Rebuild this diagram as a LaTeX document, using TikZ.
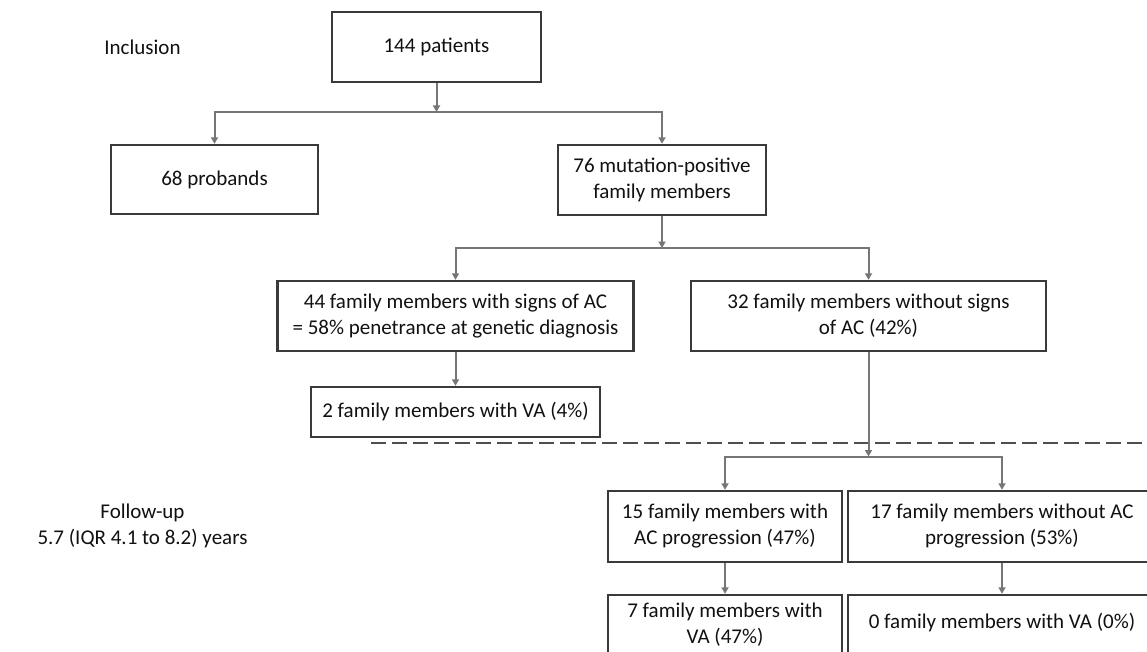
\documentclass[tikz,border=0pt]{standalone}
\usepackage{fontspec}
\setmainfont{Carlito}
\usetikzlibrary{arrows.meta}
\definecolor{boxc}{HTML}{3A3A3A}
\definecolor{arrc}{HTML}{767676}
\definecolor{txt}{HTML}{111111}
\begin{document}
\begin{tikzpicture}[x=1pt,y=-1pt,
  every node/.style={font=\fontsize{21}{26}\selectfont, text=txt, inner sep=0pt},
  box/.style={draw=boxc, line width=2.4pt, align=center},
  lbl/.style={align=center},
  conn/.style={draw=arrc, line width=2pt, -{Triangle[length=6.5pt,width=7pt]}},
  sep/.style={draw=boxc!90, line width=2.2pt, dash pattern=on 15pt off 6pt}]
\fill[white] (0,0) rectangle (1147,652);
\useasboundingbox (0,0) rectangle (1147,652);

% labels
\node[lbl] (incl) at (142.5,47) {Inclusion};
\node[lbl] (fup) at (142.5,526) {Follow-up\\5.7 (IQR 4.1 to 8.2) years};

% boxes
\node[box, minimum width=209, minimum height=70] (p144) at (436.5,47) {144 patients};
\node[box, minimum width=207, minimum height=69] (prob) at (214.5,179.5) {68 probands};
\node[box, minimum width=208, minimum height=70] (mut) at (662,180) {76 mutation-positive\\family members};
\node[box, minimum width=356, minimum height=70] (ac) at (455.5,316) {44 family members with signs of AC\\= 58\% penetrance at genetic diagnosis};
\node[box, minimum width=355, minimum height=70] (noac) at (868.5,316) {32 family members without signs\\of AC (42\%)};
\node[box, minimum width=289, minimum height=50] (va2) at (455.5,412) {2 family members with VA (4\%)};
\node[box, minimum width=234, minimum height=71] (prog) at (725,526.5) {15 family members with\\AC progression (47\%)};
\node[box, minimum width=308, minimum height=71] (noprog) at (1002,526.5) {17 family members without AC\\progression (53\%)};
\node[box, minimum width=234, minimum height=80] (va7) at (725,635) {};
\node[box, minimum width=308, minimum height=80] (va0) at (1002,635) {};
\node[lbl] (va7t) at (725,625) {7 family members with\\VA (47\%)};
\node[lbl] (va0t) at (1002,623) {0 family members with VA (0\%)};

% separator
\coordinate (sepL) at (371,443);
\coordinate (sepR) at (1150,443);
\draw[sep] (sepL) -- (sepR);

% junctions
\coordinate (j1) at (436.5,112);
\coordinate (j2) at (662,248);
\coordinate (j3) at (868.5,456.5);

% connectors
\draw[conn] (p144) -- (j1);
\draw[conn] (j1) -| (prob);
\draw[conn] (j1) -| (mut);
\draw[conn] (mut) -- (j2);
\draw[conn] (j2) -| (ac);
\draw[conn] (j2) -| (noac);
\draw[conn] (ac) -- (va2);
\draw[conn] (noac) -- (j3);
\draw[conn] (j3) -| (prog);
\draw[conn] (j3) -| (noprog);
\draw[conn] (prog) -- (va7);
\draw[conn] (noprog) -- (va0);
\end{tikzpicture}
\end{document}
